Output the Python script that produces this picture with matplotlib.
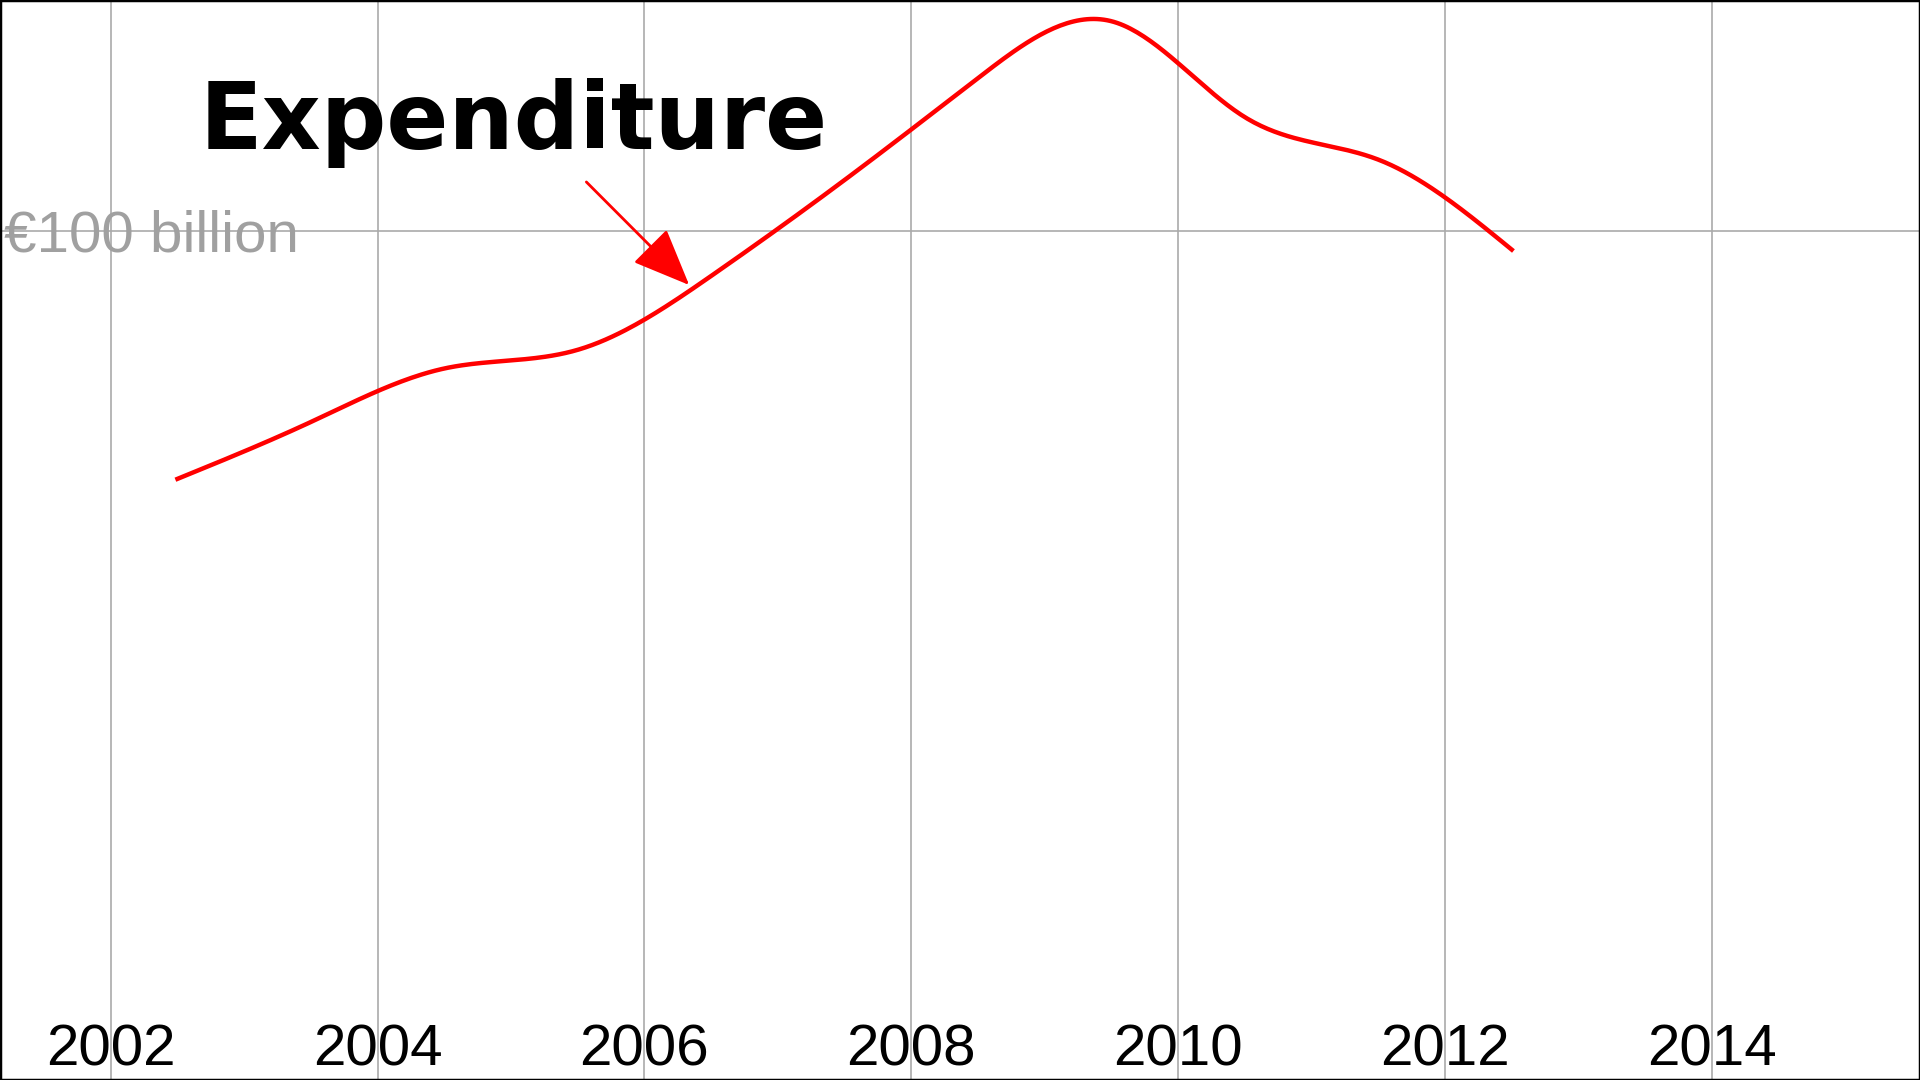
import numpy as np
import matplotlib
matplotlib.use("Agg")
import matplotlib.pyplot as plt

years = [2002.5, 2003.5, 2004.5, 2005.5, 2006.5, 2007.5, 2008.5, 2009.5, 2010.5, 2011.5, 2012.5]
expenditure = [70.8, 77.5, 83.8, 86.0, 94.7, 106.0, 118.0, 124.7, 113.4, 108.4, 97.8]
xticks = [2002, 2004, 2006, 2008, 2010, 2012, 2014]

def natural_spline(x, y, xs):
    x = np.asarray(x, float); y = np.asarray(y, float)
    n = len(x); h = np.diff(x)
    A = np.zeros((n, n)); r = np.zeros(n)
    A[0, 0] = A[-1, -1] = 1
    for i in range(1, n - 1):
        A[i, i-1] = h[i-1]; A[i, i] = 2*(h[i-1]+h[i]); A[i, i+1] = h[i]
        r[i] = 3*((y[i+1]-y[i])/h[i] - (y[i]-y[i-1])/h[i-1])
    c = np.linalg.solve(A, r)
    b = (y[1:]-y[:-1])/h - h*(2*c[:-1]+c[1:])/3
    d = (c[1:]-c[:-1])/(3*h)
    idx = np.clip(np.searchsorted(x, xs) - 1, 0, n-2)
    dx = xs - x[idx]
    return y[idx] + b[idx]*dx + c[idx]*dx**2 + d[idx]*dx**3

fig = plt.figure(figsize=(19.2, 10.8), dpi=100)
ax = fig.add_axes([0, 0, 1, 1])
ax.set_xlim(2001.17, 2015.56)
ax.set_ylim(0, 127.2)
ax.set_xticks(xticks)
ax.set_yticks([100])
ax.grid(True, color="#aaaaaa", linewidth=1.2)
ax.tick_params(length=0, labelbottom=False, labelleft=False)
for s in ax.spines.values():
    s.set_color("black"); s.set_linewidth(2.5)

xs = np.linspace(years[0], years[-1], 400)
ax.plot(xs, natural_spline(years, expenditure, xs), color="red", linewidth=3.2)

for t in xticks:
    ax.text(t, 0.3, str(t), ha="center", va="bottom", fontsize=42,
            color="black", family="Liberation Sans")
ax.text(2001.2, 99.3, "€100 billion", ha="left", va="center", fontsize=42,
        color="#a0a0a0", family="Liberation Sans")

ax.text(2005.02, 112.7, "Expenditure", ha="center", va="center", fontsize=66,
        fontweight="bold", family="DejaVu Sans")
ax.annotate("", xy=(2006.35, 93.4), xytext=(2005.55, 106.0),
            arrowprops=dict(arrowstyle="-|>,head_length=3.6,head_width=1.5",
                            color="red", lw=2.0))

fig.savefig("out.png", dpi=100)
